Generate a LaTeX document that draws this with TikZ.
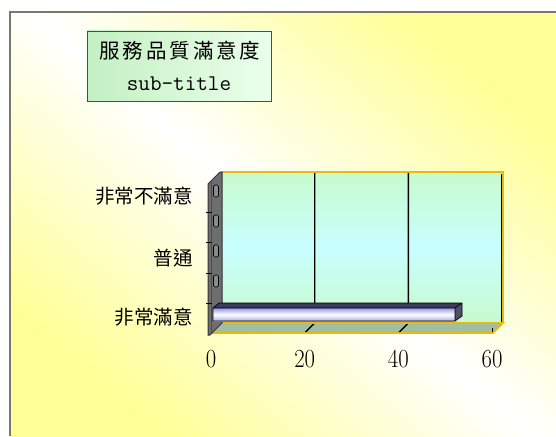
\documentclass[tikz,border=0pt]{standalone}
\usepackage{fontspec}
\newfontfamily\cjk{Noto Sans CJK TC}
\definecolor{bgyellow}{RGB}{255,255,150}
\definecolor{framegray}{RGB}{120,120,110}
\definecolor{wallgreen}{RGB}{200,250,205}
\definecolor{wallcyan}{RGB}{200,255,255}
\definecolor{goldline}{RGB}{230,185,20}
\definecolor{floorgreen}{RGB}{160,190,160}
\definecolor{sidegray}{RGB}{110,110,110}
\definecolor{bartop}{RGB}{60,60,90}
\definecolor{barend}{RGB}{80,80,110}
\definecolor{barlav}{RGB}{150,150,230}
\definecolor{boxgreen}{RGB}{195,240,195}
\definecolor{boxlight}{RGB}{235,255,235}
\tikzset{
  gridline/.style={black, line width=1.4pt},
  goldedge/.style={goldline, line width=1.6pt},
  catlabel/.style={anchor=east, inner sep=0pt, font=\cjk\fontsize{19.5}{20}\selectfont},
  numlabel/.style={anchor=center, inner sep=0pt, font=\fontsize{22.7}{23}\selectfont},
  zerobar/.style={draw=black, fill=sidegray!80, line width=0.7pt, rounded corners=1.5pt, minimum width=5pt, minimum height=12pt, inner sep=0pt},
}
\begin{document}
\begin{tikzpicture}[x=1pt,y=-1pt]
\useasboundingbox (0,0) rectangle (556,436);
\fill[white] (0,0) rectangle (556,436);
\shade[top color=bgyellow, bottom color=bgyellow, middle color=white, shading angle=-40] (10,12) rectangle (556,436);
\draw[framegray, line width=1.5pt] (10,436) -- (10,12) -- (556,12);

% title box
\node[draw=black!70, line width=0.8pt, left color=boxgreen, right color=boxlight, minimum width=184pt, minimum height=70pt, inner sep=0pt] (titlebox) at (179,66) {};
\node[inner sep=0pt, font=\cjk\fontsize{20.5}{21}\selectfont\addfontfeatures{LetterSpace=14}] (t1) at (180,51) {服務品質滿意度};
\node[inner sep=0pt, anchor=base, font=\ttfamily\fontsize{22.5}{23}\selectfont] (t2) at (179,90) {sub-title};

% back wall
\shade[top color=wallgreen, bottom color=wallgreen, middle color=wallcyan] (221,172) rectangle (502,323);
\draw[gridline] (314.7,172) -- (314.7,323) -- (304.7,333);
\draw[gridline] (408.3,172) -- (408.3,323) -- (398.3,333);
\draw[gridline, line width=1pt] (304.7,328) -- (304.7,333);
\draw[gridline, line width=1pt] (398.3,328) -- (398.3,333);
\draw[black, line width=1pt] (501,174) -- (501,323);
\draw[goldedge] (221,172) -- (503,172) -- (503,323);

% floor
\fill[floorgreen] (211,333) -- (221,323) -- (503,323) -- (493,333) -- cycle;
\draw[gridline] (314.7,323) -- (304.7,333);
\draw[gridline] (408.3,323) -- (398.3,333);
\draw[black, line width=1pt] (492,328) -- (492,333);
\draw[goldedge] (221,323) -- (503,323) -- (493,333) -- (211,333);

% left wall
\fill[sidegray] (208,184) -- (220,172) -- (222,172) -- (222,323) -- (210,335) -- (208,335) -- cycle;
\draw[black!80, line width=1pt] (208,335) -- (208,184) -- (220,172) -- (222,172) -- (222,323) -- (210,335) -- cycle;
\draw[black!70, line width=0.6pt] (211,182) -- (211,333);
\foreach \yy in {212,242,273,303} \draw[black, line width=0.8pt] (206,\yy) -- (212,\yy);
\node[zerobar] (z1) at (216,191) {};
\node[zerobar] (z2) at (216,221) {};
\node[zerobar] (z3) at (216,251) {};
\node[zerobar] (z4) at (216,281) {};

% bar
\shade[top color=barlav, bottom color=barlav!80, middle color=white] (213,308) rectangle (455,321);
\fill[bartop] (213,308) -- (219,303) -- (462,303) -- (455,308) -- cycle;
\fill[barend] (455,308) -- (462,303) -- (462,316) -- (455,321) -- cycle;
\draw[black, line width=0.7pt] (213,308) -- (219,303) -- (462,303) -- (462,316) -- (455,321) -- (213,321) -- cycle (213,308) -- (455,308) -- (462,303) (455,308) -- (455,321);

% category labels
\node[catlabel] (c1) at (193,196) {非常不滿意};
\node[catlabel] (c3) at (193,258.5) {普通};
\node[catlabel] (c5) at (193,317.5) {非常滿意};

% axis numbers
\node[numlabel] (n0) at (211,358.7) {\scalebox{1}[1.15]{0}};
\node[numlabel] (n20) at (304.7,358.7) {\scalebox{1}[1.15]{20}};
\node[numlabel] (n40) at (398.3,358.7) {\scalebox{1}[1.15]{40}};
\node[numlabel] (n60) at (492,358.7) {\scalebox{1}[1.15]{60}};
\end{tikzpicture}
\end{document}
